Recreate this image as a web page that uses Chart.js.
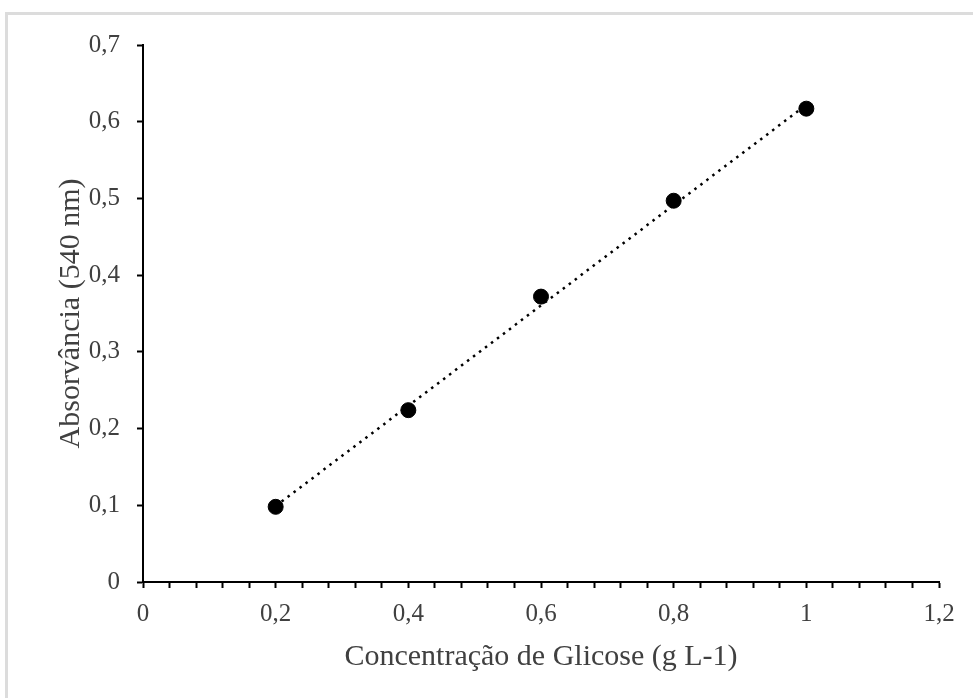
<!DOCTYPE html>
<html>
<head>
<meta charset="utf-8">
<title>Curva padrão de glicose</title>
<script src="https://cdn.jsdelivr.net/npm/chart.js@4"></script>
<style>
  html, body { margin: 0; padding: 0; background: #fff; overflow: hidden; }
  #frame {
    position: absolute; left: 5px; top: 12px; width: 2000px; height: 2000px;
    border-top: 3px solid #dcdcdc; border-left: 3px solid #dcdcdc;
  }
  #wrap { position: absolute; left: 0; top: 0; width: 973px; height: 698px; }
</style>
</head>
<body>
<div id="frame"></div>
<div id="wrap"><canvas id="curveChart"></canvas></div>
<script>
// glucose standard curve (DNS method)
const concentrations = [0.2, 0.4, 0.6, 0.8, 1.0];
const absorbances = [0.098, 0.224, 0.372, 0.497, 0.617];

// linear trendline end points
const trendX = [0.2, 1.0];
const trendY = [0.099, 0.622];

const xTitle = 'Concentração de Glicose (g L-1)';
const yTitle = 'Absorvância (540 nm)';

const textColor = '#404040';
const serif = "'Liberation Serif', 'Times New Roman', serif";

function commaLabel(v) {
  return String(Math.round(v * 10) / 10).replace('.', ',');
}

const ctx = document.getElementById('curveChart');

new Chart(ctx, {
  type: 'scatter',
  data: {
    datasets: [
      {
        label: 'Absorvância',
        data: concentrations.map((c, i) => ({ x: c, y: absorbances[i] })),
        backgroundColor: '#000',
        borderColor: '#000',
        pointRadius: 7.5,
        pointHoverRadius: 7.5,
        order: 1
      },
      {
        label: 'Linear',
        type: 'line',
        data: trendX.map((c, i) => ({ x: c, y: trendY[i] })),
        borderColor: '#000',
        borderWidth: 2.5,
        borderDash: [2.5, 5],
        pointRadius: 0,
        fill: false,
        order: 2
      }
    ]
  },
  options: {
    responsive: true,
    maintainAspectRatio: false,
    animation: false,
    layout: { padding: { left: 0, top: 45, right: 34, bottom: 0 } },
    plugins: {
      legend: { display: false },
      tooltip: { enabled: false }
    },
    scales: {
      x: {
        type: 'linear',
        min: 0,
        max: 1.2,
        afterFit: (scale) => { scale.height = 116; },
        border: { display: true, color: '#000', width: 2 },
        grid: { drawOnChartArea: false, drawTicks: true, tickLength: 6, color: '#000', tickWidth: 2 },
        ticks: {
          stepSize: 0.04,
          autoSkip: false,
          maxRotation: 0,
          padding: 11,
          color: textColor,
          font: { family: serif, size: 25 },
          callback: (v) => {
            const k = v / 0.2;
            return Math.abs(k - Math.round(k)) < 1e-6 ? commaLabel(v) : '';
          }
        },
        title: {
          display: true,
          text: xTitle,
          color: textColor,
          font: { family: serif, size: 30 },
          padding: { top: 0, bottom: 23 }
        }
      },
      y: {
        type: 'linear',
        min: 0,
        max: 0.7,
        afterFit: (scale) => { scale.width = 143; },
        border: { display: true, color: '#000', width: 2 },
        grid: { drawOnChartArea: false, drawTicks: true, tickLength: 6, color: '#000', tickWidth: 2 },
        ticks: {
          stepSize: 0.1,
          padding: 17,
          color: textColor,
          font: { family: serif, size: 25 },
          callback: (v) => commaLabel(v)
        },
        title: {
          display: true,
          text: yTitle,
          color: textColor,
          font: { family: serif, size: 30 },
          padding: { top: 53, bottom: 0 }
        }
      }
    }
  }
});
</script>
</body>
</html>
